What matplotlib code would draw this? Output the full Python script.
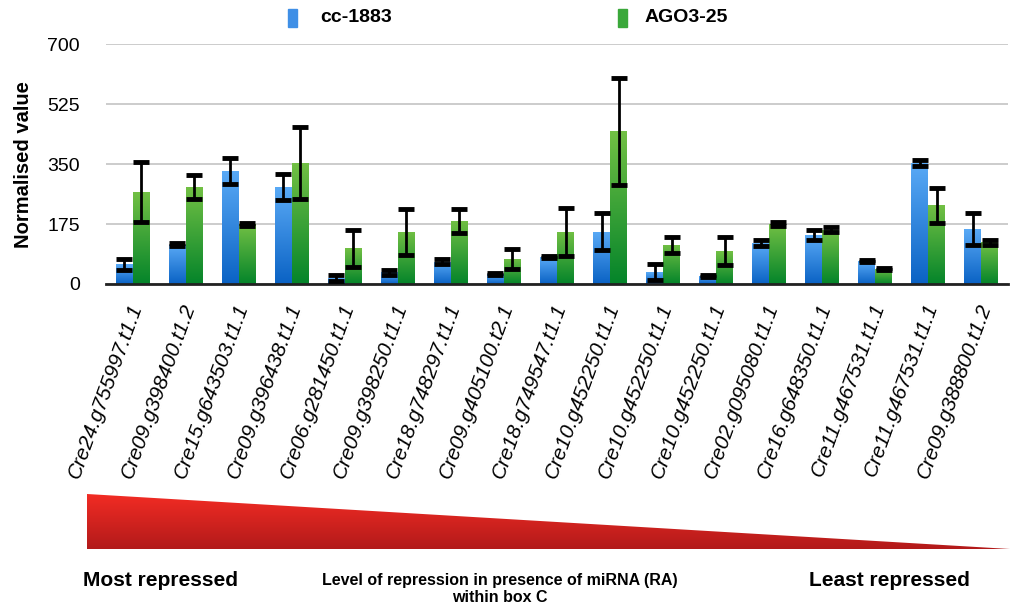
import numpy as np
import matplotlib.pyplot as plt
from matplotlib.colors import LinearSegmentedColormap
from matplotlib.patches import Polygon, Rectangle

genes = ['Cre24.g755997.t1.1', 'Cre09.g398400.t1.2', 'Cre15.g643503.t1.1',
         'Cre09.g396438.t1.1', 'Cre06.g281450.t1.1', 'Cre09.g398250.t1.1',
         'Cre18.g748297.t1.1', 'Cre09.g405100.t2.1', 'Cre18.g749547.t1.1',
         'Cre10.g452250.t1.1', 'Cre10.g452250.t1.1', 'Cre10.g452250.t1.1',
         'Cre02.g095080.t1.1', 'Cre16.g648350.t1.1', 'Cre11.g467531.t1.1',
         'Cre11.g467531.t1.1', 'Cre09.g388800.t1.2']
cc1883 = [58, 115, 330, 283, 17, 34, 65, 29, 78, 152, 35, 24, 119, 143, 67, 352, 160]
cc1883_err = [16, 5, 39, 39, 8, 7, 7, 3, 3, 54, 23, 3, 9, 16, 3, 9, 47]
ago3 = [268, 283, 174, 353, 105, 152, 184, 73, 152, 446, 114, 96, 174, 159, 44, 230, 122]
ago3_err = [87, 35, 5, 105, 54, 67, 35, 28, 70, 156, 23, 42, 6, 7, 3, 51, 7]

narrow = ['Liberation Sans Narrow', 'Liberation Sans', 'DejaVu Sans']
plt.rcParams['font.family'] = ['Liberation Sans', 'DejaVu Sans']

blue_cm = LinearSegmentedColormap.from_list('b', ['#0a62c4', '#5aaaf6'])
green_cm = LinearSegmentedColormap.from_list('g', ['#04842a', '#72c044'])
red_cm = LinearSegmentedColormap.from_list('r', ['#b21a1a', '#f22c24'])
grad = np.linspace(0, 1, 256).reshape(-1, 1)

fig = plt.figure(figsize=(10.1, 6.14), dpi=100)
ax = fig.add_axes([0.105, 0.5375, 0.893, 0.3905])

x = np.arange(len(genes))
w = 0.32


def gradient_bars(xs, heights, cmap):
    bars = ax.bar(xs, heights, w, color='none', edgecolor='none', zorder=2)
    for b in bars:
        x0, y0 = b.get_x(), b.get_y()
        im = ax.imshow(grad, cmap=cmap, origin='lower', aspect='auto',
                       extent=[x0, x0 + b.get_width(), y0, y0 + b.get_height()],
                       zorder=2)
        im.set_clip_path(b)
    return bars


gradient_bars(x - w / 2, cc1883, blue_cm)
gradient_bars(x + w / 2, ago3, green_cm)
ax.errorbar(x - w / 2, cc1883, yerr=cc1883_err, fmt='none', ecolor='black',
            elinewidth=2, capsize=6, capthick=3.5, zorder=3)
ax.errorbar(x + w / 2, ago3, yerr=ago3_err, fmt='none', ecolor='black',
            elinewidth=2, capsize=6, capthick=3.5, zorder=3)

ax.set_xlim(-0.5, len(genes) - 0.5)
ax.set_ylim(0, 700)
ax.set_yticks([0, 175, 350, 525, 700])
ax.yaxis.grid(True, color='#c4c4c4', linewidth=1.2)
ax.set_axisbelow(True)
for s in ['top', 'right', 'left']:
    ax.spines[s].set_visible(False)
ax.spines['bottom'].set_linewidth(2)
ax.spines['bottom'].set_color('#222222')
ax.tick_params(axis='y', length=0, labelsize=14, pad=19)
ax.set_xticks(x - 0.09)
ax.set_xticklabels(genes, rotation=70, ha='right', va='top',
                   fontsize=15, style='italic', rotation_mode='anchor')
ax.tick_params(axis='x', length=0, pad=12)
ax.set_ylabel('Normalised value', fontsize=14.5, fontweight='bold', labelpad=10)

# legend
fig.add_artist(Rectangle((288 / 1010, 1 - 27 / 614), 9 / 1010, 18 / 614,
                         transform=fig.transFigure, color='#3f8fe6'))
fig.add_artist(Rectangle((618 / 1010, 1 - 27 / 614), 9 / 1010, 18 / 614,
                         transform=fig.transFigure, color='#3aa83a'))
fig.text(320 / 1010, 1 - 18 / 614, 'cc-1883', fontsize=14, fontweight='bold',
         family=narrow, va='center')
fig.text(645 / 1010, 1 - 18 / 614, 'AGO3-25', fontsize=14, fontweight='bold',
         family=narrow, va='center')

# gradient triangle
tax = fig.add_axes([87 / 1010, 1 - 549 / 614, (1010 - 87) / 1010, 55 / 614])
tax.set_xlim(0, 1)
tax.set_ylim(0, 1)
tax.axis('off')
tri = Polygon([[0, 0], [0, 1], [1, 0]], closed=True, transform=tax.transData,
              facecolor='none', edgecolor='none')
tax.add_patch(tri)
tim = tax.imshow(grad, cmap=red_cm, origin='lower', aspect='auto', extent=[0, 1, 0, 1])
tim.set_clip_path(tri)

fig.text(83 / 1010, 1 - 580 / 614, 'Most repressed', fontsize=15, fontweight='bold',
         family=narrow, va='center')
fig.text(970 / 1010, 1 - 580 / 614, 'Least repressed', fontsize=15, fontweight='bold',
         family=narrow, va='center', ha='right')
fig.text(500 / 1010, 1 - 589 / 614,
         'Level of repression in presence of miRNA (RA)\nwithin box C',
         fontsize=11.5, fontweight='bold', family=narrow, va='center', ha='center',
         linespacing=1.1)

fig.savefig('out.png', dpi=100)
